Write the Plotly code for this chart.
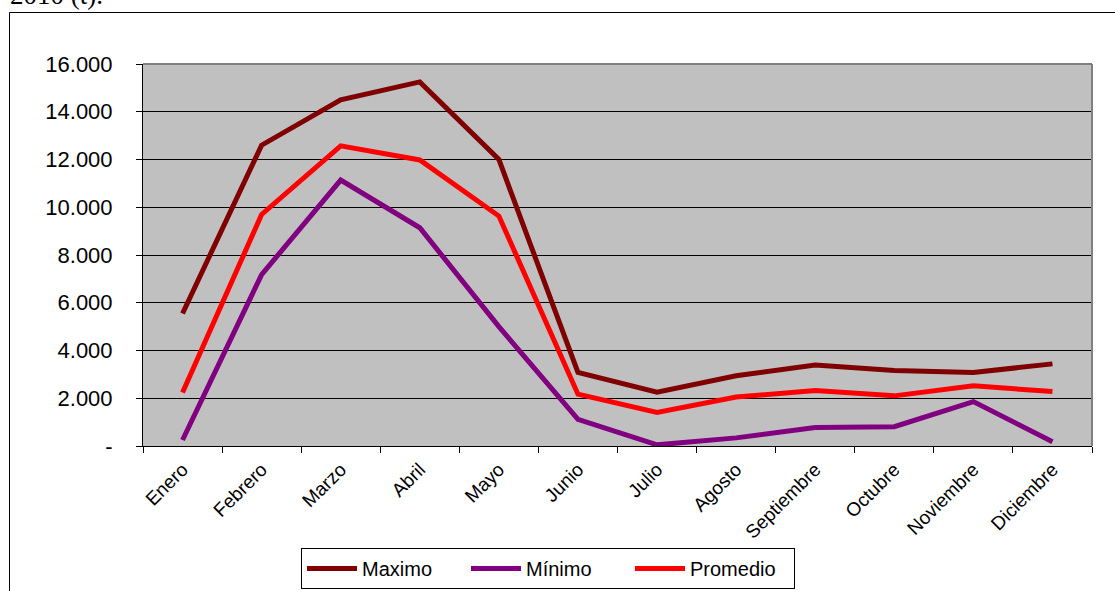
import plotly.graph_objects as go

meses = ["Enero", "Febrero", "Marzo", "Abril", "Mayo", "Junio", "Julio",
         "Agosto", "Septiembre", "Octubre", "Noviembre", "Diciembre"]
maximo = [5550, 12600, 14500, 15250, 12000, 3080, 2250, 2940, 3390, 3160, 3080, 3440]
minimo = [250, 7180, 11140, 9140, 5000, 1120, 50, 340, 770, 810, 1860, 180]
promedio = [2240, 9700, 12570, 11980, 9630, 2170, 1410, 2050, 2320, 2100, 2520, 2280]

y_ticks = [0, 2000, 4000, 6000, 8000, 10000, 12000, 14000, 16000]
y_labels = ["-", "2.000", "4.000", "6.000", "8.000", "10.000", "12.000", "14.000", "16.000"]

series = [
    ("Maximo", maximo, "#800000"),
    ("Mínimo", minimo, "#800080"),
    ("Promedio", promedio, "#FF0000"),
]

fig = go.Figure()
for name, vals, color in series:
    fig.add_trace(go.Scatter(
        x=meses, y=vals, name=name, mode="lines",
        line=dict(color=color, width=5),
    ))

fig.update_layout(
    width=1115, height=591,
    margin=dict(l=143, r=23, t=64, b=145),
    paper_bgcolor="white",
    plot_bgcolor="#C0C0C0",
    font=dict(family="Liberation Sans, Arial, sans-serif", color="black"),
    showlegend=True,
    legend=dict(
        orientation="h", xref="container", x=548 / 1115, xanchor="center",
        yref="container", y=1 - 548 / 591, yanchor="top",
        bordercolor="black", borderwidth=1, bgcolor="white",
        font=dict(size=20), itemwidth=50, entrywidth=99,
        traceorder="normal",
    ),
    xaxis=dict(
        type="category", tickangle=-45, tickson="boundaries",
        ticks="outside", ticklen=6, tickcolor="black",
        showline=True, linecolor="black", linewidth=1,
        showgrid=False, tickfont=dict(size=19), ticklabelstandoff=4,
        range=[-0.5, 11.5], automargin=False,
    ),
    yaxis=dict(
        range=[0, 16000], tickvals=y_ticks, ticktext=y_labels,
        ticks="outside", ticklen=6, tickcolor="black",
        showline=True, linecolor="black", linewidth=1,
        showgrid=True, gridcolor="black", gridwidth=1,
        zeroline=False, tickfont=dict(size=22), ticklabelstandoff=19,
        automargin=False,
    ),
)

# plot-area frame (top and right edges) and the outer chart border
fig.add_shape(type="line", xref="paper", yref="paper", x0=0, x1=1, y0=1, y1=1,
              line=dict(color="#808080", width=2))
fig.add_shape(type="line", xref="paper", yref="paper", x0=1, x1=1, y0=0, y1=1,
              line=dict(color="#808080", width=2))
fig.add_shape(type="rect", xref="paper", yref="paper",
              x0=(9.5 - 143) / 949, x1=1.1, y0=-0.5, y1=1 + (64 - 12.5) / 382,
              line=dict(color="black", width=1), layer="below")

fig.add_annotation(
    text="2010 (t).", xref="paper", yref="paper",
    x=(8 - 143) / 949, xanchor="left",
    y=1 + (64 + 5) / 382, yanchor="middle",
    showarrow=False, font=dict(family="Liberation Serif, Times New Roman, serif", size=27),
)

fig.write_html("out.html")
